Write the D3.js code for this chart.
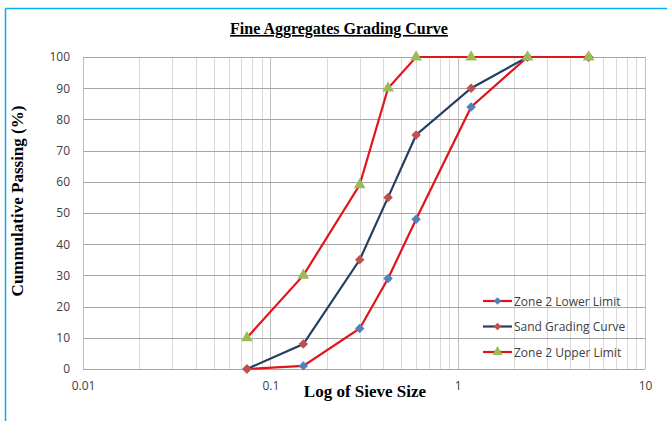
<!DOCTYPE html>
<html>
<head>
<meta charset="utf-8">
<script src="https://cdn.jsdelivr.net/npm/d3@7"></script>
<style>
	body { margin: 0; background: #fff; }
	svg { display: block; }
</style>
</head>
<body>
<div class="chartDiv"></div>
<script>
// sieve sizes (mm) and % passing
var sieveSizes = [0.075, 0.15, 0.3, 0.425, 0.6, 1.18, 2.36, 5];
var lowerLimit = [0, 1, 13, 29, 48, 84, 100, 100];
var sandCurve = [0, 8, 35, 55, 75, 90, 100, 100];
var upperLimit = [10, 30, 59, 90, 100, 100, 100, 100];
var seriesNames = ["Zone 2 Lower Limit", "Sand Grading Curve", "Zone 2 Upper Limit"];
var xTicks = [0.01, 0.1, 1, 10];
var yTicks = [0, 10, 20, 30, 40, 50, 60, 70, 80, 90, 100];

var width = 667, height = 421;
var margin = {top: 57, right: 22, bottom: 52, left: 83};

var svg = d3.select(".chartDiv").append("svg")
	.attr("width", width)
	.attr("height", height);

// outer frame (only top and left visible)
svg.append("line").attr("x1", 5.5).attr("x2", width).attr("y1", 8.5).attr("y2", 8.5)
	.style("stroke", "#00b0f0").style("stroke-width", 1.5);
svg.append("line").attr("x1", 5.5).attr("x2", 5.5).attr("y1", 8.5).attr("y2", height)
	.style("stroke", "#00b0f0").style("stroke-width", 1.5);

var xScale = d3.scaleLog().domain([0.01, 10]).range([margin.left, width - margin.right]);
var yScale = d3.scaleLinear().domain([0, 100]).range([height - margin.bottom, margin.top]);

var g = svg.append("g");

// vertical grid for log minor ticks
var minor = [];
[0.01, 0.1, 1].forEach(function (dec) {
	for (var k = 2; k <= 9; k++) minor.push(dec * k);
});
g.selectAll(".vminor").data(minor).enter().append("line")
	.attr("x1", function (d) { return Math.round(xScale(d)) + 0.5; })
	.attr("x2", function (d) { return Math.round(xScale(d)) + 0.5; })
	.attr("y1", yScale(0)).attr("y2", yScale(100))
	.style("stroke", "#d9d9d9");
g.selectAll(".vmajor").data(xTicks).enter().append("line")
	.attr("x1", function (d) { return Math.round(xScale(d)) + 0.5; })
	.attr("x2", function (d) { return Math.round(xScale(d)) + 0.5; })
	.attr("y1", yScale(0)).attr("y2", yScale(100))
	.style("stroke", "#bfbfbf");

// horizontal grid
g.selectAll(".hgrid").data(yTicks).enter().append("line")
	.attr("x1", xScale(0.01)).attr("x2", xScale(10))
	.attr("y1", function (d) { return Math.round(yScale(d)) + 0.5; })
	.attr("y2", function (d) { return Math.round(yScale(d)) + 0.5; })
	.style("stroke", "#a6a6a6");

// axes
var yAxis = svg.append("g")
	.attr("transform", "translate(" + (margin.left - 13) + ",0)")
	.call(d3.axisLeft(yScale).tickValues(yTicks).tickSize(0).tickPadding(0));
yAxis.select(".domain").remove();
yAxis.selectAll("text").style("font-family", "'Open Sans', sans-serif").style("font-size", "12px").style("fill", "#404040");

var xAxis = svg.append("g")
	.attr("transform", "translate(0," + (height - margin.bottom + 12) + ")")
	.call(d3.axisBottom(xScale).tickValues(xTicks).tickFormat(d3.format("~g")).tickSize(0).tickPadding(0));
xAxis.select(".domain").remove();
xAxis.selectAll("text").style("font-family", "'Open Sans', sans-serif").style("font-size", "12px").style("fill", "#404040");

// diamond = square turned 45 degrees
var series = [
	{name: seriesNames[0], values: lowerLimit, line: "#e0151b", marker: "#4f81bd", shape: d3.symbolSquare, rot: 45},
	{name: seriesNames[1], values: sandCurve, line: "#243f60", marker: "#c0504d", shape: d3.symbolSquare, rot: 45},
	{name: seriesNames[2], values: upperLimit, line: "#e0151b", marker: "#9bbb59", shape: d3.symbolTriangle, rot: 0}
];

var line = d3.line()
	.x(function (d) { return xScale(d[0]); })
	.y(function (d) { return yScale(d[1]); });

series.forEach(function (s) {
	var pts = sieveSizes.map(function (x, i) { return [x, s.values[i]]; });
	svg.append("path")
		.datum(pts)
		.attr("d", line)
		.style("fill", "none")
		.style("stroke", s.line)
		.style("stroke-width", 2.2);
	svg.selectAll(null).data(pts).enter().append("path")
		.attr("d", d3.symbol().type(s.shape).size(s.rot ? 45 : 60))
		.attr("transform", function (d) { return "translate(" + xScale(d[0]) + "," + yScale(d[1]) + ") rotate(" + s.rot + ")"; })
		.style("fill", s.marker);
});

// legend
var legend = svg.append("g").attr("transform", "translate(483,301)");
series.forEach(function (s, i) {
	var lg = legend.append("g").attr("transform", "translate(0," + (i * 25.5) + ")");
	lg.append("line").attr("x1", 0).attr("x2", 29).style("stroke", s.line).style("stroke-width", 2.2);
	lg.append("path")
		.attr("d", d3.symbol().type(s.shape).size(s.rot ? 30 : 45))
		.attr("transform", "translate(14.5,0) rotate(" + s.rot + ")")
		.style("fill", s.marker);
	lg.append("text").attr("x", 31).attr("y", 4.5)
		.style("font-family", "'Open Sans', sans-serif").style("font-size", "12px").style("fill", "#404040")
		.text(s.name);
});

// titles
svg.append("text")
	.attr("x", 339).attr("y", 34)
	.attr("text-anchor", "middle")
	.style("font-family", "'Liberation Serif', serif").style("font-weight", "bold").style("font-size", "16px")
	.style("text-decoration", "underline")
	.text("Fine Aggregates Grading Curve");

svg.append("text")
	.attr("x", 365).attr("y", 397)
	.attr("text-anchor", "middle")
	.style("font-family", "'Liberation Serif', serif").style("font-weight", "bold").style("font-size", "17px")
	.text("Log of Sieve Size");

svg.append("text")
	.attr("transform", "translate(23,201) rotate(-90)")
	.attr("text-anchor", "middle")
	.style("font-family", "'Liberation Serif', serif").style("font-weight", "bold").style("font-size", "17px")
	.text("Cummulative Passing (%)");
</script>
</body>
</html>
